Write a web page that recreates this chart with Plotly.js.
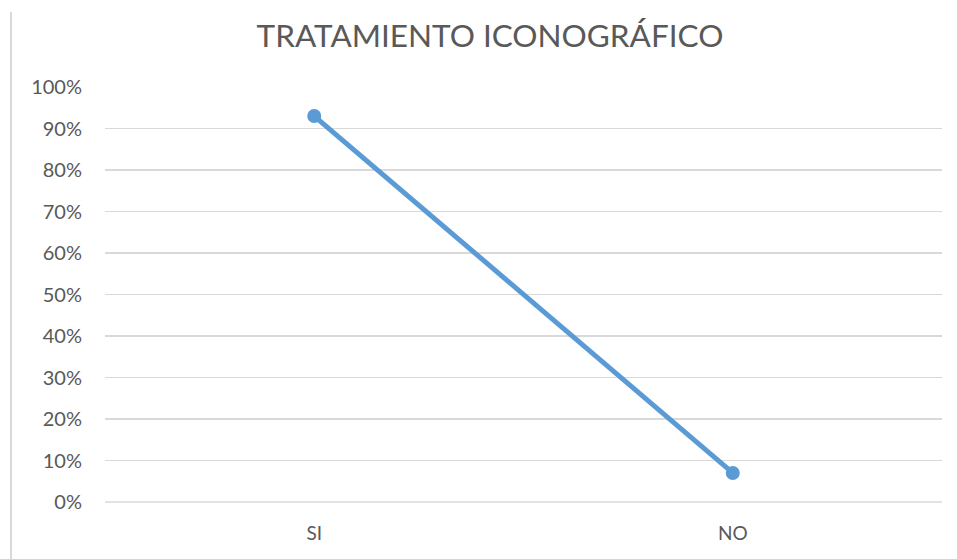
<!DOCTYPE html>
<html>
<head>
<meta charset="utf-8">
<script src="https://cdn.plot.ly/plotly-3.0.1.min.js"></script>
<style>html,body{margin:0;padding:0;background:#fff;}#chart{width:957px;height:559px;}</style>
</head>
<body>
<div id="chart"></div>
<script>
const categories = ["SI", "NO"];
const values = [0.93, 0.07];
const seriesName = "TRATAMIENTO ICONOGRÁFICO";

const trace = {
  x: categories,
  y: values,
  type: "scatter",
  mode: "lines+markers",
  name: seriesName,
  line: {color: "#5b9bd5", width: 5},
  marker: {color: "#5b9bd5", size: 14},
  cliponaxis: false
};

const layout = {
  width: 957,
  height: 559,
  margin: {l: 105, r: 15, t: 87, b: 57},
  paper_bgcolor: "#ffffff",
  plot_bgcolor: "#ffffff",
  showlegend: false,
  font: {family: "Lato, 'Open Sans', sans-serif", color: "#595959", size: 20},
  title: {
    text: "TRATAMIENTO ICONOGRÁFICO",
    font: {family: "Lato, 'Open Sans', sans-serif", size: 31.5, color: "#595959"},
    x: 0.512, xref: "container", xanchor: "center",
    y: 0.935, yref: "container", yanchor: "middle"
  },
  xaxis: {
    type: "category",
    range: [-0.5, 1.5],
    showgrid: false,
    zeroline: false,
    showline: false,
    ticks: "",
    ticklabelstandoff: 18,
    tickfont: {size: 19, color: "#595959"},
    fixedrange: true
  },
  yaxis: {
    range: [0, 1],
    dtick: 0.1,
    tickformat: ".0%",
    showgrid: true,
    gridcolor: "#d9d9d9",
    gridwidth: 1.5,
    zeroline: false,
    showline: false,
    ticks: "",
    ticklabelstandoff: 22,
    tickfont: {size: 20, color: "#595959"},
    fixedrange: true
  },
  shapes: [
    {type: "line", xref: "paper", yref: "paper",
     x0: (11 - 105) / 837, x1: (11 - 105) / 837,
     y0: (502 - 12) / 415, y1: (502 - 560) / 415,
     line: {color: "#d9d9d9", width: 2}},
    {type: "line", xref: "paper", yref: "paper",
     x0: 0, x1: 1, y0: 0, y1: 0,
     line: {color: "#d9d9d9", width: 1.5}, layer: "below"}
  ]
};

Plotly.newPlot("chart", [trace], layout, {displayModeBar: false, staticPlot: true});
</script>
</body>
</html>
